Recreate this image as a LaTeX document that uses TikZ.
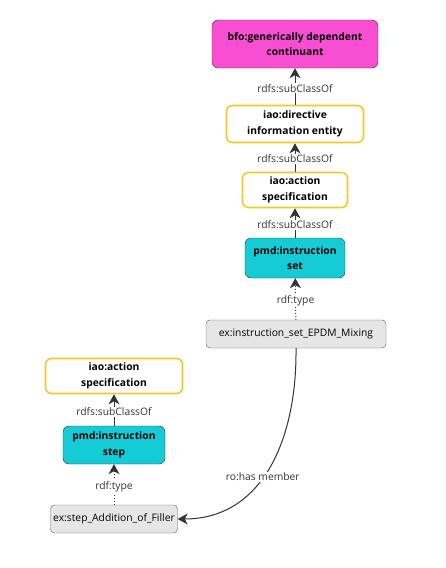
\documentclass[tikz,border=0pt]{standalone}
\usepackage{fontspec}
\setmainfont{Open Sans}
\usetikzlibrary{arrows.meta}

\definecolor{bfopink}{HTML}{F84FD2}
\definecolor{iaoyellow}{HTML}{F5C727}
\definecolor{pmdcyan}{HTML}{15CCD6}
\definecolor{exgray}{HTML}{E6E6E6}
\definecolor{edgegray}{HTML}{333333}

\begin{document}
\begin{tikzpicture}[x=1pt, y=-1pt,
        font=\fontsize{10.3}{15.5}\selectfont,
        box/.style={rounded corners=6pt, align=center, inner sep=2pt},
        bfoclass/.style={box, draw=edgegray, fill=bfopink, font=\fontsize{10.3}{15.5}\selectfont\bfseries},
        iaoclass/.style={box, draw=iaoyellow, line width=1.6pt, fill=white, font=\fontsize{10.3}{15.5}\selectfont\bfseries},
        pmdclass/.style={box, draw=edgegray, fill=pmdcyan, font=\fontsize{10.3}{15.5}\selectfont\bfseries},
        individual/.style={box, rounded corners=4pt, draw=edgegray!80, fill=exgray},
        rel/.style={draw=edgegray, line width=1pt, -{Stealth[length=10pt, width=11pt, inset=3pt]}},
        rellabel/.style={fill=white, inner sep=1pt, text=edgegray}]
        \useasboundingbox (0,0) rectangle (445,568);

        % class hierarchy of the instruction set
        \node[bfoclass, minimum width=166pt, minimum height=48pt] (gdc) at (295,44) {bfo:generically dependent\\continuant};
        \node[iaoclass, minimum width=137pt, minimum height=37pt] (die) at (295,124) {iao:directive\\information entity};
        \node[iaoclass, minimum width=105pt, minimum height=35pt] (specA) at (295,190) {iao:action\\specification};
        \node[pmdclass, minimum width=100pt, minimum height=40pt] (iset) at (295,258) {pmd:instruction\\set};
        \node[individual, minimum width=180pt, minimum height=28pt] (mixing) at (296,334) {ex:instruction\_set\_EPDM\_Mixing};

        % class hierarchy of the instruction step
        \node[iaoclass, minimum width=137pt, minimum height=35pt] (specB) at (114,376) {iao:action\\specification};
        \node[pmdclass, minimum width=102pt, minimum height=38pt] (istep) at (114,445) {pmd:instruction\\step};
        \node[individual, minimum width=127pt, minimum height=28pt] (filler) at (114,519) {ex:step\_Addition\_of\_Filler};

        \draw[rel] (die) -- node[rellabel, pos=0.45] {rdfs:subClassOf} (gdc);
        \draw[rel] (specA) -- node[rellabel, pos=0.45] {rdfs:subClassOf} (die);
        \draw[rel] (iset) -- node[rellabel, pos=0.45] {rdfs:subClassOf} (specA);
        \draw[rel, dotted] (mixing) -- node[rellabel, pos=0.45] {rdf:type} (iset);
        \draw[rel] (istep) -- node[rellabel, pos=0.45] {rdfs:subClassOf} (specB);
        \draw[rel, dotted] (filler) -- node[rellabel, pos=0.45] {rdf:type} (istep);
        \draw[rel] (mixing.south) .. controls (297,440) and (262,519) .. node[rellabel, pos=0.55] {ro:has member} (filler.east);
\end{tikzpicture}
\end{document}
